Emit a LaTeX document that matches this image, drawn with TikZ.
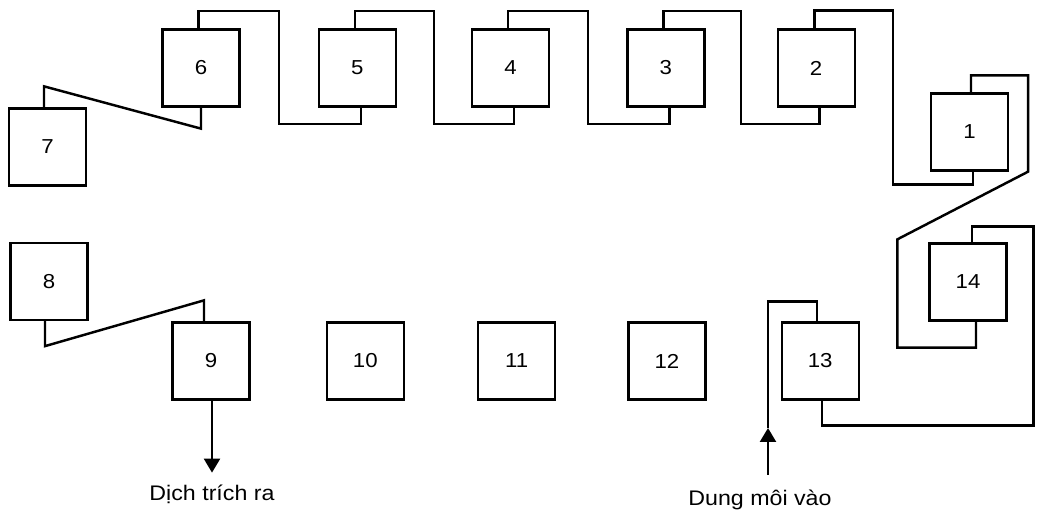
\documentclass[tikz,border=0pt]{standalone}
\usepackage{fontspec}
\setmainfont{Liberation Sans}[FakeStretch=1.1]
\usetikzlibrary{arrows.meta,positioning,calc}

\begin{document}
\begin{tikzpicture}[
stage/.style={draw, line width=1.3pt, minimum width=1.54cm, minimum height=1.54cm, inner sep=0pt, font=\fontsize{11.5}{13}\selectfont},
pipe/.style={line width=1.4pt},
flow/.style={line width=1.3pt, -{Triangle[width=0.32cm,length=0.28cm]}},
caption/.style={font=\fontsize{12}{14}\selectfont}
]
\useasboundingbox (0,0) rectangle (20.82,10.26);
% top row
\node[stage] (b6) at (4.02,8.9) {6};
\node[stage, right=1.54cm of b6] (b5) {5};
\node[stage, right=1.48cm of b5] (b4) {4};
\node[stage, right=1.52cm of b4] (b3) {3};
\node[stage, right=1.42cm of b3] (b2) {2};
% bottom row
\node[stage] (b9) at (4.22,3.04) {9};
\node[stage, right=1.50cm of b9] (b10) {10};
\node[stage, right=1.44cm of b10] (b11) {11};
\node[stage, right=1.42cm of b11] (b12) {12};
\node[stage, right=1.48cm of b12] (b13) {13};
% ends
\node[stage] (b7) at (0.95,7.32) {7};
\node[stage] (b8) at (0.98,4.63) {8};
\node[stage] (b1) at (19.39,7.62) {1};
\node[stage] (b14) at (19.36,4.62) {14};
\coordinate (m21) at ($(b2.east)!0.5!(b1.west)$);
\coordinate (intip) at (15.36,1.7);
\coordinate (inlet) at (15.36,0.76);

% pipes along the top
\foreach \a/\b in {b6/b5,b5/b4,b4/b3,b3/b2}
  \draw[pipe] ([xshift=-0.05cm]\a.north) -- ++(0,0.35) -| ($(\a.south east)!0.5!(\b.south west)+(0,-0.33)$) -| ([xshift=0.07cm]\b.south);
\draw[pipe] ([xshift=-0.03cm]b2.north) -- ++(0,0.36) -| ($(m21 |- b1.south)+(0,-0.26)$) -| ([xshift=0.07cm]b1.south);
\draw[pipe] ([xshift=0.03cm]b1.north) -- ++(0,0.34) -| ($(b1.south east)+(0.38,0)$) -- ($(b14.north west)+(-0.62,0.06)$) |- ($(b14.south)+(0.16,-0.52)$) -- ([xshift=0.16cm]b14.south);
\draw[pipe] ([xshift=0.08cm]b14.north) -- ++(0,0.32) -| ($(b14.east |- b13.south)+(0.52,-0.5)$) -| ([xshift=0.04cm]b13.south);
\draw[pipe] ([xshift=-0.06cm]b13.north) -- ++(0,0.4) -| (intip);
% left side
\draw[pipe] (b6.south) -- ++(0,-0.42) -- ($(b7.north)+(-0.07,0.42)$) -- ([xshift=-0.07cm]b7.north);
\draw[pipe] ([xshift=-0.08cm]b8.south) -- ++(0,-0.5) -- ($(b9.north)+(-0.14,0.42)$) -- ([xshift=-0.14cm]b9.north);

% in and out
\draw[flow] (inlet) -- (intip);
\draw[flow] ([xshift=0.02cm]b9.south) -- ++(0,-1.44) coordinate (outtip);
\node[caption, below=0.12cm of outtip] (outtext) {Dịch trích ra};
\node[caption, below=0.18cm of inlet, xshift=-0.16cm] (intext) {Dung môi vào};
\end{tikzpicture}
\end{document}
